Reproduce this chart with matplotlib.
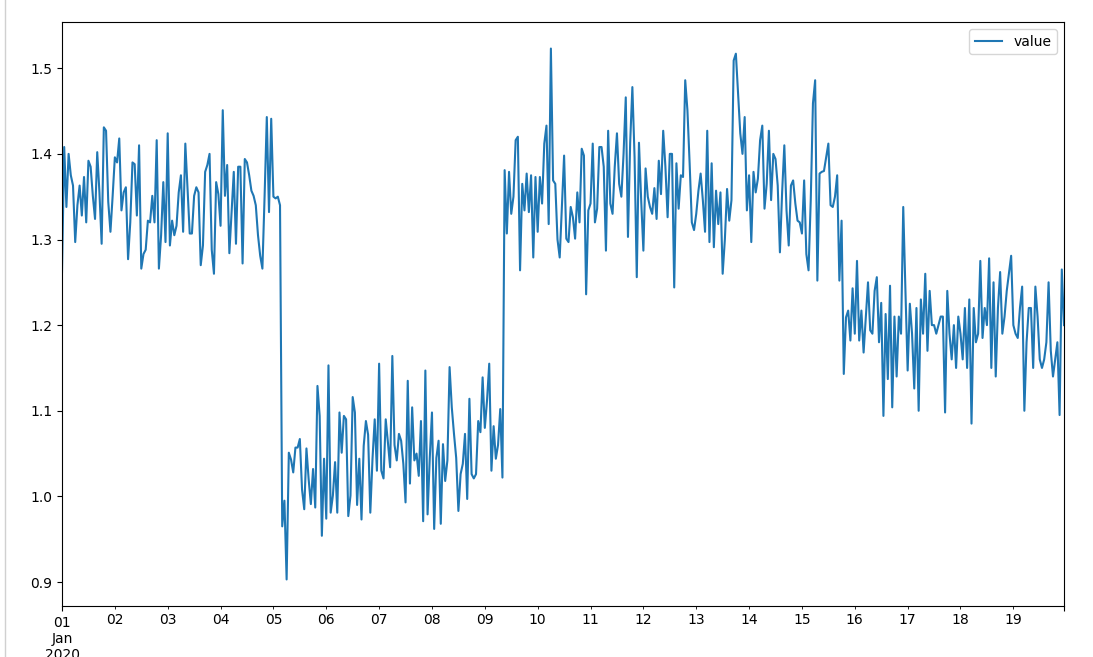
import numpy as np
import pandas as pd
import matplotlib
matplotlib.use("Agg")
import matplotlib.pyplot as plt
from matplotlib.lines import Line2D

# hourly readings, Jan 1 2020 00:00 onwards
first_level = [1.262, 1.408, 1.338, 1.400, 1.375, 1.363, 1.297, 1.340, 1.363, 1.328,
               1.373, 1.320, 1.392, 1.385, 1.351, 1.324, 1.402, 1.355, 1.295, 1.431,
               1.427, 1.344, 1.309, 1.351, 1.396, 1.390, 1.418, 1.334, 1.355, 1.361,
               1.277, 1.320, 1.390, 1.388, 1.328, 1.410, 1.266, 1.283, 1.288, 1.322,
               1.320, 1.351, 1.320, 1.416, 1.266, 1.305, 1.367, 1.297, 1.424, 1.293,
               1.322, 1.305, 1.316, 1.355, 1.375, 1.309, 1.412, 1.359, 1.307, 1.307,
               1.351, 1.361, 1.355, 1.270, 1.293, 1.379, 1.387, 1.400, 1.288, 1.260,
               1.367, 1.353, 1.316, 1.451, 1.351, 1.387, 1.284, 1.332, 1.379,
               1.295, 1.385, 1.385, 1.272, 1.394, 1.390, 1.375, 1.357, 1.351, 1.340,
               1.305, 1.281, 1.266, 1.351, 1.443, 1.332, 1.441, 1.350, 1.348, 1.350,
               1.340]
drop = [0.965, 0.995, 0.903]
low_level = [1.051, 1.043, 1.028, 1.057, 1.057, 1.067, 1.008, 0.985, 1.056, 1.020,
             0.991, 1.032, 0.987, 1.129, 1.094, 0.954, 1.044, 0.974, 1.153, 0.981,
             1.001, 1.040, 0.981, 1.098, 1.051, 1.094, 1.090, 0.977, 1.001, 1.116,
             1.098, 0.990, 1.044, 0.973, 1.059, 1.088, 1.072, 0.981, 1.044, 1.090,
             1.030, 1.155, 1.030, 1.021, 1.090, 1.063, 1.034, 1.164, 1.060, 1.042,
             1.073, 1.065, 1.038, 0.993, 1.135, 1.015, 1.104, 1.042, 1.050, 1.024,
             1.088, 0.971, 1.147, 0.979, 1.045, 1.098, 0.962, 1.045, 1.065, 0.968,
             1.061, 1.018, 1.042, 1.151, 1.104, 1.073, 1.045, 0.983, 1.026, 1.038,
             1.073, 0.997, 1.114, 1.026, 1.021, 1.026, 1.088, 1.075, 1.139, 1.080,
             1.112, 1.155, 1.030, 1.082, 1.044, 1.060, 1.102, 1.022]
high_level = [1.381, 1.307, 1.379, 1.330, 1.350, 1.416, 1.420, 1.264, 1.365,
              1.334, 1.377, 1.332, 1.375, 1.279, 1.373, 1.309, 1.373, 1.342, 1.412,
              1.433, 1.318, 1.523, 1.369, 1.365, 1.300,
              1.279, 1.338, 1.398, 1.301, 1.297, 1.338, 1.326, 1.301, 1.355, 1.320,
              1.406, 1.398, 1.236, 1.334, 1.342, 1.412, 1.320, 1.336, 1.408, 1.408,
              1.385, 1.287, 1.427, 1.342, 1.330, 1.385, 1.424, 1.365, 1.350, 1.400,
              1.466, 1.303, 1.413, 1.478, 1.396, 1.256, 1.413, 1.346, 1.287, 1.383,
              1.350, 1.338, 1.330, 1.360, 1.324, 1.392, 1.353, 1.427, 1.385, 1.326,
              1.400, 1.400, 1.244, 1.389, 1.336, 1.375, 1.373, 1.486, 1.451, 1.389,
              1.320, 1.311, 1.330, 1.357, 1.377, 1.346, 1.309, 1.427, 1.297, 1.389,
              1.291, 1.357, 1.318, 1.355, 1.260, 1.300,
              1.359, 1.322, 1.346, 1.509, 1.517, 1.470, 1.424, 1.400, 1.443, 1.334,
              1.375, 1.297, 1.379, 1.355, 1.371, 1.416, 1.433, 1.336, 1.365, 1.427,
              1.346, 1.400, 1.394, 1.363, 1.285, 1.355, 1.410, 1.334, 1.293, 1.363,
              1.369, 1.342, 1.322, 1.320, 1.307, 1.369, 1.283, 1.264, 1.346, 1.459,
              1.486, 1.252, 1.377, 1.379, 1.380, 1.396, 1.412, 1.340, 1.338, 1.350,
              1.375, 1.252, 1.322]
mid_level = [1.143, 1.209, 1.217, 1.182, 1.243, 1.190, 1.275, 1.182, 1.217, 1.168,
             1.210, 1.250, 1.194, 1.190, 1.240, 1.256, 1.180, 1.226, 1.094, 1.213,
             1.137, 1.246, 1.104, 1.210, 1.140, 1.210, 1.190, 1.338, 1.240, 1.147,
             1.225, 1.190, 1.126, 1.220, 1.100, 1.230, 1.190, 1.260, 1.170, 1.240,
             1.200, 1.200, 1.190, 1.200, 1.210, 1.210, 1.098, 1.240, 1.190, 1.160,
             1.200, 1.150, 1.210, 1.190, 1.160, 1.220, 1.150, 1.230, 1.085, 1.220,
             1.180, 1.190, 1.275, 1.185, 1.220, 1.200, 1.278, 1.150, 1.250, 1.140,
             1.220, 1.262, 1.190, 1.210, 1.240, 1.260, 1.281, 1.200, 1.190, 1.185,
             1.220, 1.245, 1.100, 1.180, 1.220, 1.220, 1.150, 1.245, 1.210, 1.160,
             1.150, 1.160, 1.180, 1.250, 1.170, 1.140, 1.160, 1.180, 1.095, 1.265,
             1.200]

values = first_level + drop + low_level + high_level + mid_level

df = pd.DataFrame({"value": values},
                  index=pd.date_range("2020-01-01", periods=len(values), freq="h"))

fig = plt.figure(figsize=(10.93, 6.57), dpi=100)
ax = fig.add_axes([62 / 1093, 51 / 657, 1002 / 1093, 584 / 657])
df.plot(ax=ax, color="#1f77b4", linewidth=1.5)
ax.set_xlabel("")
ax.legend(loc="upper right")

# notebook output border on the left
fig.add_artist(Line2D([5 / 1093, 5 / 1093], [0, 1], color="#d0d0d0", linewidth=1))

fig.savefig("out.png", dpi=100)
